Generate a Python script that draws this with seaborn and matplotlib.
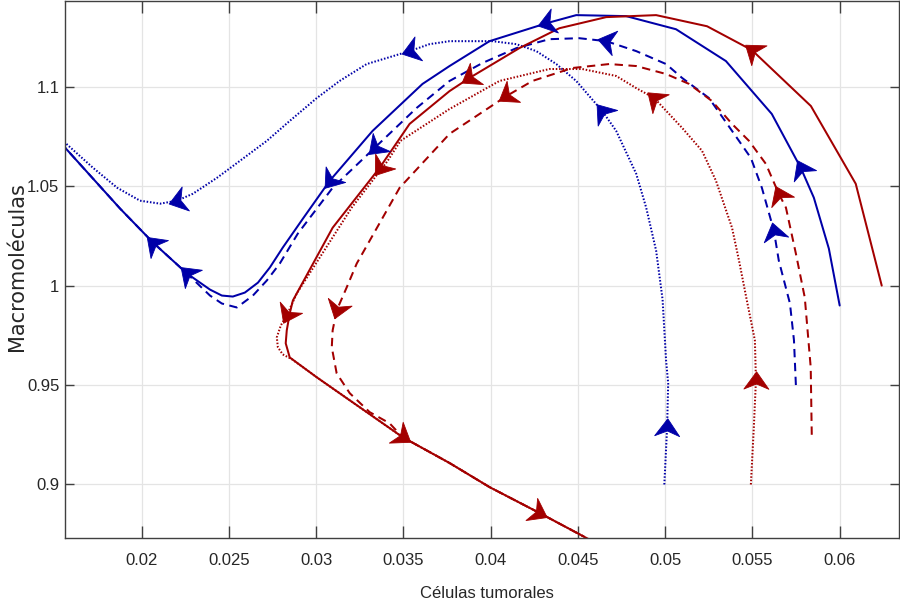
import numpy as np
import pandas as pd
import matplotlib
matplotlib.use("Agg")
import matplotlib.pyplot as plt
import seaborn as sns
from matplotlib.path import Path
from matplotlib.markers import MarkerStyle
from matplotlib.transforms import Affine2D

# ---------------- data ----------------
x_ticks = [0.02, 0.025, 0.03, 0.035, 0.04, 0.045, 0.05, 0.055, 0.06]
x_tick_labels = ["0.02", "0.025", "0.03", "0.035", "0.04", "0.045", "0.05", "0.055", "0.06"]
y_ticks = [0.9, 0.95, 1.0, 1.05, 1.1]
y_tick_labels = ["0.9", "0.95", "1", "1.05", "1.1"]
x_label = "Células tumorales"
y_label = "Macromoléculas"

# blue, solid
b1_x = [0.06000, 0.05938, 0.05852, 0.05777, 0.05611, 0.05348, 0.05062, 0.04776, 0.04490, 0.04319,
        0.03993, 0.03764, 0.03609, 0.03323, 0.03077, 0.02923, 0.02808, 0.02734, 0.02666, 0.02591,
        0.02522, 0.02459, 0.02391, 0.02259, 0.02065, 0.01876, 0.01561, 0.01504]
b1_y = [0.9900, 1.0186, 1.0442, 1.0592, 1.0863, 1.1129, 1.1289, 1.1355, 1.1360, 1.1319,
        1.1229, 1.1104, 1.1014, 1.0778, 1.0527, 1.0336, 1.0191, 1.0091, 1.0015, 0.9965,
        0.9945, 0.9950, 0.9980, 1.0061, 1.0216, 1.0387, 1.0693, 1.0743]
b1_arrows = [3, 9, 14, 24]

# blue, dashed
b2_x = [0.05749, 0.05738, 0.05715, 0.05651, 0.05623, 0.05554, 0.05491, 0.05383, 0.05251, 0.05097,
        0.05005, 0.04834, 0.04662, 0.04507, 0.04336, 0.04147, 0.03952, 0.03764, 0.03575, 0.03335,
        0.03094, 0.02894, 0.02791, 0.02717, 0.02637, 0.02545, 0.02459, 0.02391, 0.02259, 0.02065,
        0.01876, 0.01561, 0.01504]
b2_y = [0.9500, 0.9725, 0.9910, 1.0126, 1.0276, 1.0492, 1.0642, 1.0778, 1.0943, 1.1044,
        1.1114, 1.1179, 1.1229, 1.1244, 1.1239, 1.1194, 1.1119, 1.1029, 1.0893, 1.0693,
        1.0492, 1.0261, 1.0111, 1.0026, 0.9950, 0.9890, 0.9910, 0.9950, 1.0061, 1.0216,
        1.0387, 1.0693, 1.0743]
b2_arrows = [4, 12, 19, 28]

# blue, dotted
b3_x = [0.04995, 0.05011, 0.05017, 0.05005, 0.04985, 0.04948, 0.04891, 0.04834, 0.04719, 0.04639,
        0.04490, 0.04376, 0.04261, 0.04147, 0.04010, 0.03764, 0.03649, 0.03535, 0.03289, 0.03134,
        0.03003, 0.02848, 0.02717, 0.02562, 0.02431, 0.02293, 0.02202, 0.02105, 0.01990, 0.01859,
        0.01721, 0.01561, 0.01504]
b3_y = [0.9000, 0.9288, 0.9509, 0.9624, 0.9930, 1.0176, 1.0392, 1.0562, 1.0778, 1.0878,
        1.1029, 1.1114, 1.1179, 1.1214, 1.1229, 1.1229, 1.1214, 1.1179, 1.1114, 1.1029,
        1.0943, 1.0828, 1.0728, 1.0627, 1.0542, 1.0462, 1.0427, 1.0412, 1.0427, 1.0492,
        1.0592, 1.0718, 1.0760]
b3_arrows = [1, 9, 17, 26]

# red, solid
r1_x = [0.06241, 0.06092, 0.05835, 0.05497, 0.05240, 0.04948, 0.04662, 0.04393, 0.04164, 0.03878,
        0.03764, 0.03535, 0.03363, 0.03094, 0.02866, 0.02848, 0.02831, 0.02825, 0.02848, 0.03003,
        0.03495, 0.03764, 0.03993, 0.04279, 0.04536, 0.04623]
r1_y = [1.0000, 1.0512, 1.0903, 1.1184, 1.1304, 1.1360, 1.1350, 1.1294, 1.1194, 1.1044,
        1.0978, 1.0813, 1.0592, 1.0291, 0.9925, 0.9860, 0.9775, 0.9710, 0.9639, 0.9539,
        0.9238, 0.9108, 0.8987, 0.8857, 0.8737, 0.8697]
r1_arrows = [3, 9, 12]

# red, dotted
r2_x = [0.05491, 0.05508, 0.05520, 0.05514, 0.05468, 0.05423, 0.05383, 0.05291, 0.05211, 0.05097,
        0.04937, 0.04834, 0.04719, 0.04525, 0.04336, 0.04050, 0.03764, 0.03483, 0.03409, 0.03203,
        0.03009, 0.02888, 0.02831, 0.02797, 0.02774, 0.02780, 0.02808, 0.02860, 0.03003, 0.03495,
        0.03764, 0.03993, 0.04279, 0.04536]
r2_y = [0.9000, 0.9288, 0.9524, 0.9725, 0.9925, 1.0126, 1.0291, 1.0527, 1.0678, 1.0793,
        1.0943, 1.0993, 1.1054, 1.1089, 1.1089, 1.1029, 1.0888, 1.0728, 1.0627, 1.0392,
        1.0126, 0.9960, 0.9850, 0.9800, 0.9740, 0.9690, 0.9654, 0.9630, 0.9539, 0.9238,
        0.9108, 0.8987, 0.8857, 0.8737]
r2_arrows = [2, 10, 22, 32]

# red, dashed
r3_x = [0.05840, 0.05834, 0.05800, 0.05749, 0.05692, 0.05651, 0.05577, 0.05480, 0.05383, 0.05268,
        0.05137, 0.05005, 0.04834, 0.04679, 0.04467, 0.04239, 0.04090, 0.03764, 0.03478, 0.03232,
        0.03174, 0.03117, 0.03094, 0.03089, 0.03117, 0.03192, 0.03306, 0.03420, 0.03495, 0.03764,
        0.03993, 0.04279, 0.04536]
r3_y = [0.9250, 0.9589, 0.9940, 1.0161, 1.0392, 1.0462, 1.0612, 1.0728, 1.0813, 1.0928,
        1.1014, 1.1064, 1.1104, 1.1114, 1.1094, 1.1029, 1.0953, 1.0763, 1.0492, 1.0111,
        0.9990, 0.9875, 0.9775, 0.9690, 0.9559, 0.9459, 0.9364, 0.9308, 0.9238, 0.9108,
        0.8987, 0.8857, 0.8737]
r3_arrows = [5, 16, 21, 28]

# ---------------- style ----------------
sns.set_theme(style="white")
plt.rcParams["font.family"] = ["Liberation Sans", "DejaVu Sans"]
plt.rcParams["lines.scale_dashes"] = False

BLUE = "#0000a8"
RED = "#a30000"
AX_COL = "#404040"
TXT_COL = "#262626"

fig = plt.figure(figsize=(9.0, 6.1), dpi=100)
ax = fig.add_axes([65 / 900, 72 / 610, 834 / 900, 537 / 610])

curves = [
    (b1_x, b1_y, b1_arrows, BLUE, "-"),
    (b2_x, b2_y, b2_arrows, BLUE, (0, (6, 4))),
    (b3_x, b3_y, b3_arrows, BLUE, (0, (1.1, 1.3))),
    (r1_x, r1_y, r1_arrows, RED, "-"),
    (r2_x, r2_y, r2_arrows, RED, (0, (1.1, 1.3))),
    (r3_x, r3_y, r3_arrows, RED, (0, (6, 4))),
]

for xs, ys, _, col, ls in curves:
    df = pd.DataFrame({"x": xs, "y": ys})
    sns.lineplot(data=df, x="x", y="y", sort=False, estimator=None, color=col,
                 linestyle=ls, linewidth=1.45, ax=ax, legend=False)

ax.set_xlim(0.0156, 0.0634)
ax.set_ylim(0.8731, 1.1431)

ax.set_xticks(x_ticks)
ax.set_xticklabels(x_tick_labels)
ax.set_yticks(y_ticks)
ax.set_yticklabels(y_tick_labels)

ax.grid(True, color="#e4e4e4", linewidth=0.9)
ax.set_axisbelow(True)
for s in ax.spines.values():
    s.set_visible(True)
    s.set_color(AX_COL)
    s.set_linewidth(1.0)

ax.tick_params(axis="x", direction="in", length=8.6, width=1.0, color=AX_COL,
               top=True, bottom=True, pad=11, labelsize=12, labelcolor=TXT_COL)
ax.tick_params(axis="y", direction="in", length=6.5, width=1.0, color=AX_COL,
               left=True, right=True, pad=4, labelsize=12, labelcolor=TXT_COL)

ax.set_xlabel(x_label, fontsize=12, color=TXT_COL, va="center")
ax.set_ylabel(y_label, fontsize=15, color=TXT_COL, va="center",
              fontfamily=["DejaVu Sans"])
ax.xaxis.set_label_coords((487 - 65) / 834, (537 - 592) / 537)
ax.yaxis.set_label_coords((17 - 65) / 834, (537 - 266) / 537)

# ---------------- arrowheads ----------------
arrow_path = Path(
    [(0.5, 0.0), (-0.5, 0.72), (-0.2, 0.0), (-0.5, -0.72), (0.5, 0.0)],
    [Path.MOVETO, Path.LINETO, Path.LINETO, Path.LINETO, Path.CLOSEPOLY],
)

for xs, ys, idxs, col, _ in curves:
    pts = ax.transData.transform(np.column_stack([xs, ys]))
    for i in idxs:
        a = pts[max(i - 1, 0)]
        b = pts[min(i + 1, len(pts) - 1)]
        ang = np.degrees(np.arctan2(b[1] - a[1], b[0] - a[0]))
        m = MarkerStyle(arrow_path, transform=Affine2D().rotate_deg(ang))
        ax.plot([xs[i]], [ys[i]], marker=m, markersize=18, color=col,
                markeredgewidth=0.6, markeredgecolor=col, linestyle="none")

fig.savefig("out.png", dpi=100)
